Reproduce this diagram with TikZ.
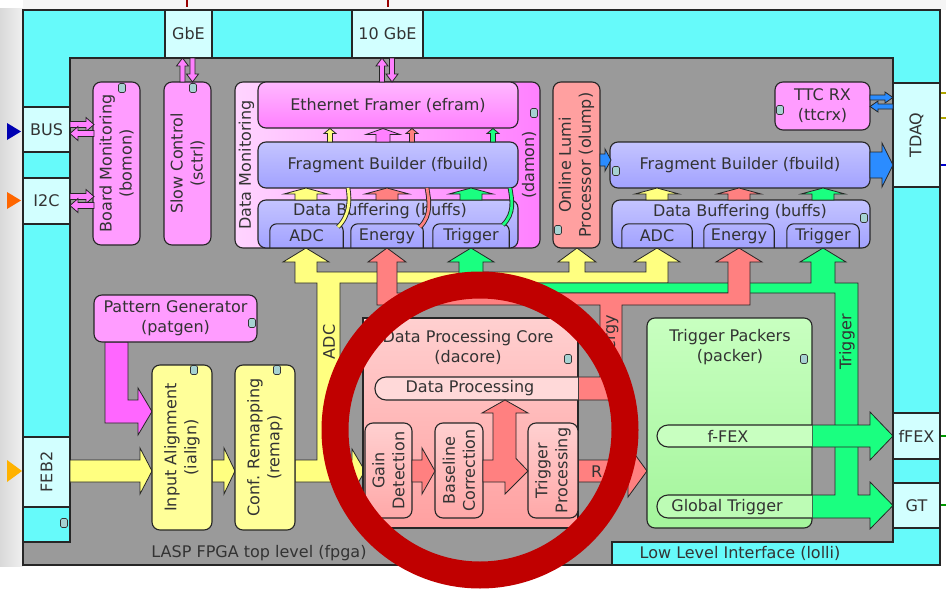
\documentclass[tikz,border=0pt]{standalone}
\usepackage{fontspec}
\setmainfont{DejaVu Sans}
\definecolor{cyanO}{HTML}{66FAFA}
\definecolor{ifc}{HTML}{D2FFFF}
\definecolor{fpgagray}{HTML}{9A9A9A}
\definecolor{pinkB}{HTML}{FF9CFF}
\definecolor{pinkT}{HTML}{FFB8FF}
\definecolor{pinkA}{HTML}{FF80FF}
\definecolor{lav}{HTML}{A2A2FF}
\definecolor{lavL}{HTML}{C4C4FF}
\definecolor{salB}{HTML}{FFA0A0}
\definecolor{salA}{HTML}{FF8080}
\definecolor{salL}{HTML}{FFD0D0}
\definecolor{salM}{HTML}{FFA8A8}
\definecolor{yelB}{HTML}{FFFF99}
\definecolor{yelA}{HTML}{FFFF80}
\definecolor{grnA}{HTML}{1AFF80}
\definecolor{grnL}{HTML}{C8FFC0}
\definecolor{grnM}{HTML}{A4F59C}
\definecolor{magA}{HTML}{FF66FF}
\definecolor{bluA}{HTML}{2B8CFF}
\definecolor{ringred}{HTML}{C00000}
\definecolor{txt}{HTML}{333333}
\tikzset{
  base/.style={draw=black!85, line width=1.1pt, text=txt, font=\fontsize{16}{20}\selectfont, align=center, inner sep=0pt},
  blk/.style={base, rounded corners=8pt},
  ifbox/.style={base, fill=ifc},
  arr/.style={draw=black!85, line width=0.8pt},
  lbl/.style={text=txt, font=\fontsize{16}{20}\selectfont, inner sep=0pt, align=center},
  sub/.style={text=txt, font=\fontsize{16}{20}\selectfont, inner sep=0pt, align=center},
  icon/.style={draw=black!80, fill=teal!35, line width=0.6pt, rounded corners=1.5pt, minimum width=7pt, minimum height=9pt, inner sep=0pt},
}
% right/left arrow: x start, x tip, y centre, shaft half, head half, head length (signed), colour
\newcommand\rarr[7]{\filldraw[arr, fill=#7] (#1,{#3-#4}) -- ({#2-(#6)},{#3-#4}) -- ({#2-(#6)},{#3-#5}) -- (#2,#3) -- ({#2-(#6)},{#3+#5}) -- ({#2-(#6)},{#3+#4}) -- (#1,{#3+#4}) -- cycle;}
% up/down arrow: x centre, y start, y tip, shaft half, head half, head length (signed), colour
\newcommand\varr[7]{\filldraw[arr, fill=#7] ({#1-#4},#2) -- ({#1-#4},{#3+(#6)}) -- ({#1-#5},{#3+(#6)}) -- (#1,#3) -- ({#1+#5},{#3+(#6)}) -- ({#1+#4},{#3+(#6)}) -- ({#1+#4},#2) -- cycle;}
\begin{document}
\begin{tikzpicture}[x=1pt, y=-1pt]
\useasboundingbox (0,0) rectangle (946,589);
\fill[white] (0,0) rectangle (946,589);
\shade[left color=gray!30, right color=gray!12] (0,8) rectangle (23,566);
\fill[gray!8] (23,0) rectangle (946,10);

% outer board / lolli and fpga
\fill[fpgagray] (23,10) rectangle (940,565);
\filldraw[fill=cyanO, draw=black!85, line width=1.1pt] (23,10) -- (940,10) -- (940,565) -- (612,565) -- (612,542) -- (893,542) -- (893,58) -- (70,58) -- (70,542) -- (23,542) -- cycle;
\draw[black!85, line width=1.1pt] (23,10) rectangle (940,565);

% port markers
\fill[blue!70!black] (7,123) -- (21,131.5) -- (7,140) -- cycle;
\fill[orange!80!red] (7,192) -- (21,200.5) -- (7,209) -- cycle;
\fill[orange!60!yellow] (7,460) -- (22,471) -- (7,482) -- cycle;
\draw[red!60!black, line width=2pt] (187,0) -- (187,7);
\draw[red!60!black, line width=2pt] (388,0) -- (388,7);
\draw[olive!70!yellow, line width=2pt] (940,93) -- (946,93) (940,118) -- (946,118);
\draw[blue!80!black, line width=2.5pt] (940,165) -- (946,165);
\draw[green!60!black, line width=2.5pt] (940,436) -- (946,436) (940,505) -- (946,505);

% interface boxes
\node[ifbox, minimum width=47pt, minimum height=48pt] (gbe) at (188.5,34) {GbE};
\node[ifbox, minimum width=71pt, minimum height=48pt] (tengbe) at (387.5,34) {10 GbE};
\node[ifbox, minimum width=47pt, minimum height=45pt] (bus) at (46.5,129.5) {BUS};
\node[ifbox, minimum width=47pt, minimum height=46pt] (iic) at (46.5,201) {I2C};
\node[ifbox, rotate=90, minimum width=70pt, minimum height=47pt] (feb) at (46.5,472) {FEB2};
\node[ifbox, rotate=90, minimum width=104pt, minimum height=47pt] (tdaq) at (916.5,135) {TDAQ};
\node[ifbox, minimum width=47pt, minimum height=46pt] (ffex) at (916.5,436) {fFEX};
\node[ifbox, minimum width=47pt, minimum height=45pt] (gt) at (916.5,505.5) {GT};

% ---- fat arrow networks ----
% ADC (yellow)
\filldraw[arr, fill=yelA] (295,460) -- (317,460) -- (317,283) -- (295,283) -- (295,262) -- (283,262) -- (306,248) -- (329,262) -- (317,262) -- (317,272) -- (569,272) -- (569,262) -- (558,262) -- (577,248) -- (596,262) -- (585,262) -- (585,272) -- (646,272) -- (646,262) -- (634,262) -- (657,248) -- (680,262) -- (668,262) -- (668,283) -- (340,283) -- (340,460) -- (352,460) -- (352,449) -- (365,471) -- (352,493) -- (352,482) -- (295,482) -- cycle;
% Trigger (green)
\filldraw[arr, fill=grnA] (459,293) -- (459,262) -- (448,262) -- (471,248) -- (494,262) -- (483,262) -- (483,283) -- (811,283) -- (811,262) -- (800,262) -- (823,248) -- (846,262) -- (835,262) -- (835,283) -- (858,283) -- (858,495) -- (870,495) -- (870,482) -- (893,505.5) -- (870,529) -- (870,518) -- (812,518) -- (812,495) -- (835,495) -- (835,293) -- cycle;
\filldraw[arr, fill=grnA] (812,425) -- (870,425) -- (870,412) -- (893,436) -- (870,460) -- (870,447) -- (812,447) -- cycle;
% Energy (salmon)
\filldraw[arr, fill=salA] (377,305) -- (377,262) -- (368,262) -- (387,248) -- (406,262) -- (397,262) -- (397,293) -- (728,293) -- (728,262) -- (716,262) -- (739,248) -- (762,262) -- (750,262) -- (750,305) -- (622,305) -- (622,400) -- (578,400) -- (578,377) -- (600,377) -- (600,305) -- cycle;
% trigger processing -> packer
\filldraw[arr, fill=salA] (578,460) -- (628,460) -- (628,445) -- (647,471) -- (628,497) -- (628,482) -- (578,482) -- cycle;
% pattern generator -> input alignment
\filldraw[arr, fill=magA] (105,342) -- (128,342) -- (128,400) -- (138,400) -- (138,388) -- (152,411.5) -- (138,435) -- (138,423) -- (105,423) -- cycle;
% FEB2 -> ialign -> remap
\rarr{70}{152}{471}{11}{23}{12}{yelA}
\rarr{212}{235}{471}{11}{23}{11}{yelA}
% bus labels
\node[lbl, rotate=90] (adcbus) at (329,342) {ADC};
\node[lbl, rotate=90] (trigbus) at (847,342) {Trigger};
\node[lbl, rotate=90] (enbus) at (611,343) {Energy};
\node[lbl, anchor=west] (rlbl) at (591,472) {R};

% ---- blocks ----
\node[blk, fill=pinkB, rotate=90, minimum width=163pt, minimum height=47pt] (bomon) at (116.5,163.5) {Board Monitoring\\(bomon)};
\node[blk, fill=pinkB, rotate=90, minimum width=163pt, minimum height=47pt] (sctrl) at (187.5,163.5) {Slow Control\\(sctrl)};
\node[blk, left color=pinkT!60!white, right color=pinkA, minimum width=305pt, minimum height=166pt] (damon) at (387.5,165) {};
\node[lbl, rotate=90] (damonA) at (246.5,165) {Data Monitoring};
\node[lbl, rotate=90] (damonB) at (529,165) {(damon)};
\node[blk, top color=pinkT, bottom color=pinkA, minimum width=260pt, minimum height=46pt] (efram) at (388,105) {Ethernet Framer (efram)};
\node[blk, top color=lavL, bottom color=lav, minimum width=260pt, minimum height=46pt] (fbuildL) at (388,165) {Fragment Builder (fbuild)};
\node[blk, top color=lavL, bottom color=lav, minimum width=260pt, minimum height=48pt] (buffsL) at (388,224) {};
\node[lbl] (buffsLt) at (380,211) {Data Buffering (buffs)};
\node[sub, minimum width=73pt, minimum height=24pt] (adcL) at (306.5,236) {ADC};
\node[sub, minimum width=72pt, minimum height=24pt] (enL) at (387,236) {Energy};
\node[sub, minimum width=76pt, minimum height=24pt] (trL) at (471,236) {Trigger};
\foreach \n in {adcL,enL,trL}
  \draw[black!85, line width=1.1pt, rounded corners=7pt] (\n.south west) -- (\n.north west) -- (\n.north east) -- (\n.south east);

\node[blk, fill=salB, rotate=90, minimum width=166pt, minimum height=47pt] (olump) at (576.5,165) {Online Lumi\\Processor (olump)};
\node[blk, fill=pinkB, minimum width=95pt, minimum height=48pt] (ttcrx) at (822.5,106) {TTC RX\\(ttcrx)};
\node[blk, top color=lavL, bottom color=lav, minimum width=260pt, minimum height=46pt] (fbuildR) at (740,165) {Fragment Builder (fbuild)};
\node[blk, top color=lavL, bottom color=lav, minimum width=258pt, minimum height=48pt] (buffsR) at (741,224) {};
\node[lbl] (buffsRt) at (740,212) {Data Buffering (buffs)};
\node[sub, minimum width=70pt, minimum height=24pt] (adcR) at (657,236) {ADC};
\node[sub, minimum width=70pt, minimum height=24pt] (enR) at (739,236) {Energy};
\node[sub, minimum width=72pt, minimum height=24pt] (trR) at (823,236) {Trigger};
\foreach \n in {adcR,enR,trR}
  \draw[black!85, line width=1.1pt, rounded corners=7pt] (\n.south west) -- (\n.north west) -- (\n.north east) -- (\n.south east);

\node[blk, fill=pinkB, minimum width=163pt, minimum height=47pt] (patgen) at (175.5,318.5) {Pattern Generator\\(patgen)};
\node[blk, fill=yelB, rotate=90, minimum width=165pt, minimum height=60pt] (ialign) at (182,447.5) {Input Alignment\\(ialign)};
\node[blk, fill=yelB, rotate=90, minimum width=165pt, minimum height=60pt] (remap) at (265,447.5) {Conf. Remapping\\(remap)};

% dacore
\node[base, top color=salL, bottom color=salB, minimum width=215pt, minimum height=210pt] (dacore) at (470.5,423) {};
\node[lbl] (dacoret) at (468,347) {Data Processing Core\\(dacore)};
\filldraw[black!85, line width=1.1pt, fill=salL!80!white, rounded corners=11pt] (578,377) -- (375,377) -- (375,400) -- (578,400);
\node[lbl] (dproc) at (470,388.5) {Data Processing};
\node[blk, top color=salL, bottom color=salM, rotate=90, minimum width=95pt, minimum height=47pt] (gain) at (388.5,470.5) {Gain\\Detection};
\node[blk, top color=salL, bottom color=salM, rotate=90, minimum width=95pt, minimum height=48pt] (basel) at (459,470.5) {Baseline\\Correction};
\node[blk, top color=salL, bottom color=salM, rotate=90, minimum width=95pt, minimum height=50pt] (trigp) at (553,470.5) {Trigger\\Processing};
\filldraw[arr, fill=salA] (412,460) -- (422,460) -- (422,448) -- (435,471) -- (422,494) -- (422,482) -- (412,482) -- cycle;
\filldraw[arr, fill=salA] (483,460) -- (493,460) -- (493,413) -- (482,413) -- (505,400) -- (528,413) -- (516,413) -- (516,458.5) -- (528,471) -- (505,494) -- (505,482) -- (483,482) -- cycle;

% packer
\node[blk, top color=grnL, bottom color=grnM, minimum width=165pt, minimum height=210pt] (packer) at (729.5,423) {};
\node[lbl] (packert) at (730,347) {Trigger Packers\\(packer)};
\filldraw[black!85, line width=1.1pt, fill=grnL, rounded corners=11pt] (812,425) -- (657,425) -- (657,447) -- (812,447);
\node[lbl] (ffexbar) at (728,436) {f-FEX};
\filldraw[black!85, line width=1.1pt, fill=grnL!70!grnM, rounded corners=11pt] (812,495) -- (657,495) -- (657,518) -- (812,518);
\node[lbl] (gtbar) at (727,507) {Global Trigger};

% ---- small connectors ----
% BUS/I2C <-> bomon
\rarr{70}{94}{124.5}{3}{7}{8}{pinkA}
\rarr{94}{70}{133.5}{3}{7}{-8}{pinkA}
\rarr{70}{94}{196.5}{3}{7}{8}{pinkA}
\rarr{94}{70}{205.5}{3}{7}{-8}{pinkA}
% GbE <-> sctrl, 10GbE <-> efram
\varr{182.5}{82}{58}{2.5}{6}{8}{pinkA}
\varr{192.5}{58}{82}{2.5}{6}{-8}{pinkA}
\varr{382}{82}{58}{2.5}{6}{8}{pinkA}
\varr{392}{58}{82}{2.5}{6}{-8}{pinkA}
% TTC RX <-> TDAQ
\rarr{870}{893}{97.5}{2.5}{5.5}{8}{bluA}
\rarr{893}{870}{106.5}{2.5}{5.5}{-8}{bluA}
% fbuild -> TDAQ, olump -> fbuild
\rarr{870}{893}{165}{13}{22}{11}{bluA}
\rarr{600}{611}{160}{6}{11}{6}{bluA}
% fbuild -> efram
\varr{330}{142}{128.5}{2.5}{6}{5}{yelA}
\varr{383}{142}{128.5}{7}{17}{6}{pinkA}
\varr{412}{142}{128.5}{2.5}{6}{5}{salA}
\varr{493}{142}{128.5}{2.5}{6}{5}{grnA}
% buffs -> fbuild
\varr{306}{200}{188}{11}{22}{6}{yelA}
\varr{387}{200}{188}{11}{22}{6}{salA}
\varr{471}{200}{188}{11}{22}{6}{grnA}
\varr{657}{200}{188}{11}{22}{6}{yelA}
\varr{739}{200}{188}{11}{22}{6}{salA}
\varr{823}{200}{188}{11}{22}{6}{grnA}
% curved monitoring taps
\foreach \a/\b/\c/\d/\col in {338/227/348/188/yelA, 420/227/427/188/salA, 503/225/510/188/grnA}{
  \draw[black!85, line width=4.6pt] (\a,\b) .. controls (\a+12,\b-12) and (\c+2,\d+12) .. (\c,\d);
  \draw[\col, line width=2.8pt] (\a,\b) .. controls (\a+12,\b-12) and (\c+2,\d+12) .. (\c,\d);
}

% icons
\foreach \px/\py [count=\i] in {122/88, 193/88, 534/113, 558/230, 616/171, 780/110, 864/218, 252/323, 194/370, 277/370, 64/523, 568/359, 804/359}
  \node[icon] (ic\i) at (\px,\py) {};

% bottom labels
\node[lbl] (fpgat) at (259,553) {LASP FPGA top level (fpga)};
\node[lbl] (lollit) at (740,553) {Low Level Interface (lolli)};

% highlight ring
\draw[ringred, line width=27pt] (480,430) circle[radius=145pt];
\end{tikzpicture}
\end{document}
